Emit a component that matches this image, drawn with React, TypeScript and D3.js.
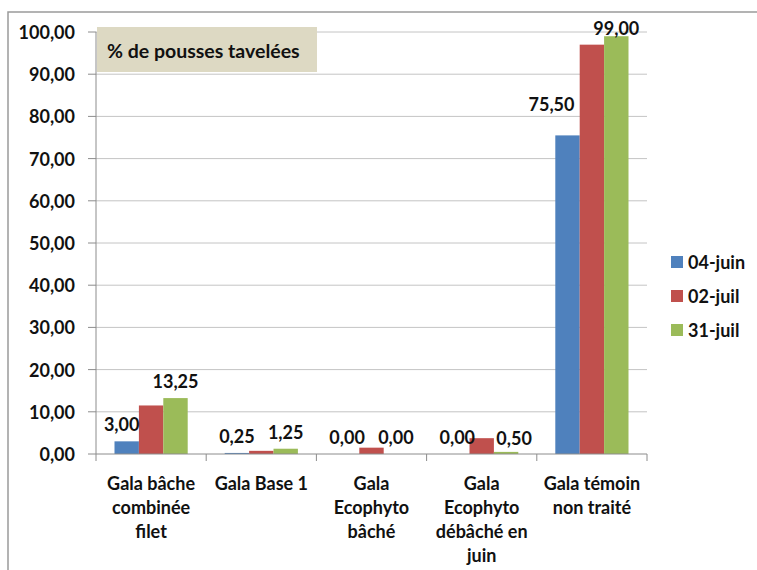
import React from "react";
import * as d3 from "d3";

const categories = [
  ["Gala bâche", "combinée", "filet"],
  ["Gala Base 1"],
  ["Gala", "Ecophyto", "bâché"],
  ["Gala", "Ecophyto", "débâché en", "juin"],
  ["Gala témoin", "non traité"],
];
const seriesNames = ["04-juin", "02-juil", "31-juil"];
const juin04 = [3.0, 0.25, 0.0, 0.0, 75.5];
const juil02 = [11.5, 0.75, 1.5, 3.75, 97.0];
const juil31 = [13.25, 1.25, 0.0, 0.5, 99.0];
const yTicks = [0, 10, 20, 30, 40, 50, 60, 70, 80, 90, 100];
const colors = ["#4f81bd", "#c0504d", "#9bbb59"];
// only the first and last series carry data labels
const labelled = [true, false, true];

// hand-moved labels, as in the original sheet: [dx, dy]
const labelNudge: Record<string, [number, number]> = {
  "0-0": [-5, 0],
  "2-3": [8, 3],
  "0-4": [-16, -14],
  "2-4": [0, 9],
};

const W = 757, H = 570;
const left = 96, right = 647, top = 32, bottom = 454;
const font = "Lato, 'Open Sans', sans-serif";
const fmt = (v: number) => v.toFixed(2).replace(".", ",");

export default function App() {
  const values = [juin04, juil02, juil31];
  const keys = categories.map((c) => c.join(" "));

  const x = d3.scaleBand().domain(keys).range([left, right]);
  const bw = x.bandwidth();
  const xs = d3.scaleBand().domain(seriesNames).range([18.5, bw - 18.5]);
  const y = d3.scaleLinear().domain([0, 100]).range([bottom, top]);

  return (
    <svg width={W} height={H} style={{ position: "absolute", left: 0, top: 0 }} fontFamily={font}>
      <rect x={0} y={0} width={W} height={H} fill="#fff" />
      {/* chart frame */}
      <rect x={8} y={12} width={W + 10} height={H + 10} fill="none" stroke="#9a9a9a" strokeWidth={1.5} />

      {/* grid */}
      {yTicks.filter((t) => t > 0).map((t) => (
        <line key={t} x1={left} x2={right} y1={y(t)} y2={y(t)} stroke="#c4c4c4" strokeWidth={1} />
      ))}

      {/* y axis */}
      <line x1={left} x2={left} y1={top} y2={bottom} stroke="#8c8c8c" />
      {yTicks.map((t) => (
        <g key={t}>
          <line x1={left - 8} x2={left} y1={y(t)} y2={y(t)} stroke="#8c8c8c" />
          <text x={75} y={y(t)} textAnchor="end" dominantBaseline="central" fontSize={18} fontWeight="bold" fill="#111">
            {fmt(t)}
          </text>
        </g>
      ))}

      {/* bars */}
      {values.map((vals, s) =>
        vals.map((v, i) => (
          <rect
            key={s + "-" + i}
            x={(x(keys[i]) as number) + (xs(seriesNames[s]) as number)}
            y={y(v)}
            width={xs.bandwidth()}
            height={bottom - y(v)}
            fill={colors[s]}
          />
        ))
      )}

      {/* x axis */}
      <line x1={left} x2={right} y1={bottom} y2={bottom} stroke="#8c8c8c" />
      {keys.map((k) => (
        <line key={k} x1={x(k)} x2={x(k)} y1={bottom} y2={bottom + 7} stroke="#8c8c8c" />
      ))}
      <line x1={right} x2={right} y1={bottom} y2={bottom + 7} stroke="#8c8c8c" />

      {/* category labels */}
      {categories.map((lines, i) => (
        <text key={i} textAnchor="middle" fontSize={18} fontWeight="bold" fill="#111">
          {lines.map((ln, j) => (
            <tspan key={j} x={(x(keys[i]) as number) + bw / 2} y={483 + j * 24} dominantBaseline="central">
              {ln}
            </tspan>
          ))}
        </text>
      ))}

      {/* data labels */}
      {values.map((vals, s) =>
        labelled[s]
          ? vals.map((v, i) => {
              const n = labelNudge[s + "-" + i] || [0, 0];
              const cx = (x(keys[i]) as number) + (xs(seriesNames[s]) as number) + xs.bandwidth() / 2;
              return (
                <text
                  key={"l" + s + "-" + i}
                  x={cx + n[0]}
                  y={y(v) - 17 + n[1]}
                  textAnchor="middle"
                  dominantBaseline="central"
                  fontSize={18}
                  fontWeight="bold"
                  fill="#111"
                >
                  {fmt(v)}
                </text>
              );
            })
          : null
      )}

      {/* title box */}
      <rect x={97} y={27} width={220} height={45} fill="#ddd9c3" />
      <text x={107} y={50} dominantBaseline="central" fontSize={19.5} fontWeight="bold" fill="#111">
        % de pousses tavelées
      </text>

      {/* legend */}
      {seriesNames.map((name, s) => (
        <g key={name} transform={`translate(671, ${262 + s * 34})`}>
          <rect x={0} y={-6} width={12} height={12} fill={colors[s]} />
          <text x={17} y={0} dominantBaseline="central" fontSize={18} fontWeight="bold" fill="#111">
            {name}
          </text>
        </g>
      ))}
    </svg>
  );
}
